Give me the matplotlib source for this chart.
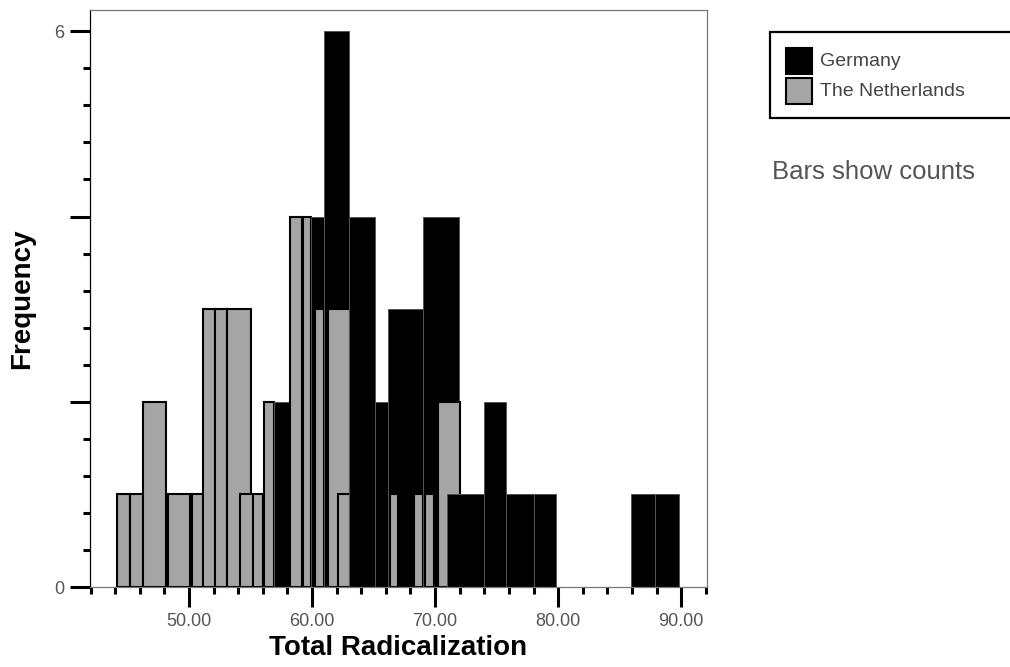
import numpy as np
import pandas as pd
import matplotlib
matplotlib.use('Agg')
import matplotlib.pyplot as plt
from matplotlib.patches import Rectangle

plt.rcParams['font.family'] = ['Liberation Sans', 'DejaVu Sans']

# Netherlands bars (bin edges and counts)
nl_left = [44.15, 45.2, 46.25, 48.25, 50.2, 51.1, 52.15, 53.1, 54.15, 55.2,
           56.1, 58.2, 59.3, 60.2, 61.3, 62.1, 66.3, 68.3, 69.2, 70.2]
nl_right = [45.2, 46.25, 48.1, 50.05, 52.0, 52.15, 53.1, 55.05, 55.2, 56.05,
            56.9, 59.15, 59.9, 61.0, 63.05, 63.05, 67.0, 69.0, 69.9, 72.05]
nl_count = [1, 1, 2, 1, 1, 3, 3, 3, 1, 1, 2, 4, 4, 3, 3, 1, 1, 1, 1, 2]

# Germany bars
de_left = [56.9, 59.9, 61.0, 63.0, 65.1, 66.15, 69.0, 70.95, 74.0, 75.8, 78.0, 85.9, 87.9]
de_right = [59.9, 61.0, 63.0, 65.1, 66.15, 69.0, 71.95, 74.0, 75.8, 78.0, 79.85, 87.9, 89.85]
de_count = [2, 4, 6, 4, 2, 3, 4, 1, 2, 1, 1, 1, 1]

countries = ['Germany', 'The Netherlands']
x_major = [50, 60, 70, 80, 90]
x_labels = ['50.00', '60.00', '70.00', '80.00', '90.00']

fill = {'Germany': 'black', 'The Netherlands': '#a5a5a5'}
edge = {'Germany': '#555555', 'The Netherlands': 'black'}
lw = {'Germany': 0.7, 'The Netherlands': 1.5}

bars = pd.concat([
    pd.DataFrame({'country': 'Germany', 'left': de_left, 'right': de_right, 'count': de_count}),
    pd.DataFrame({'country': 'The Netherlands', 'left': nl_left, 'right': nl_right, 'count': nl_count}),
])
# bars further right are drawn on top, as in the original
bars = bars.sort_values('left', kind='stable').reset_index(drop=True)

fig = plt.figure(figsize=(10.1, 6.67), dpi=100)
ax = fig.add_axes([90 / 1010, 80 / 667, 617 / 1010, 577 / 667])

for i, r in bars.iterrows():
    ax.bar(r['left'], r['count'], width=r['right'] - r['left'], align='edge',
           color=fill[r['country']], edgecolor=edge[r['country']],
           linewidth=lw[r['country']], zorder=2 + i * 0.01)

ax.set_xlim(41.95, 92.1)
ax.set_ylim(0, 6.23)

ax.set_xticks(x_major)
ax.set_xticklabels(x_labels)
ax.set_xticks(np.arange(42, 93, 2), minor=True)
ax.set_yticks([0, 2, 4, 6])
ax.set_yticklabels(['0', '', '', '6'])
ax.set_yticks(np.arange(0, 6.01, 0.4), minor=True)

ax.tick_params(axis='both', which='major', direction='out', length=14.5, width=2.2,
               color='black', labelcolor='#555555', labelsize=13, pad=4)
ax.tick_params(axis='both', which='minor', direction='out', length=5, width=2.2,
               color='black')

for s in ['top', 'right', 'bottom']:
    ax.spines[s].set_color('#777777')
    ax.spines[s].set_linewidth(0.9)
ax.spines['left'].set_color('black')
ax.spines['left'].set_linewidth(0.9)

ax.set_xlabel('Total Radicalization', fontsize=20, fontweight='bold', labelpad=4)
ax.set_ylabel('Frequency', fontsize=20, fontweight='bold', labelpad=14)

# legend box, drawn by hand so that it runs off the right edge like the original
fig.add_artist(Rectangle((770 / 1010, 1 - 118 / 667), 260 / 1010, 86 / 667,
                         transform=fig.transFigure, facecolor='white',
                         edgecolor='black', linewidth=1.6, clip_on=False))
for k, name in enumerate(countries):
    y0 = 1 - (74 + 30 * k) / 667
    fig.add_artist(Rectangle((786 / 1010, y0), 26 / 1010, 26 / 667,
                             transform=fig.transFigure, facecolor=fill[name],
                             edgecolor='black', linewidth=1.5))
    fig.text(820 / 1010, y0 + 13 / 667, name, fontsize=14, color='#444444',
             va='center', ha='left')

fig.text(772 / 1010, 1 - 172 / 667, 'Bars show counts', fontsize=18.5,
         color='#555555', va='center', ha='left')

fig.savefig('out.png', dpi=100, facecolor='white')
